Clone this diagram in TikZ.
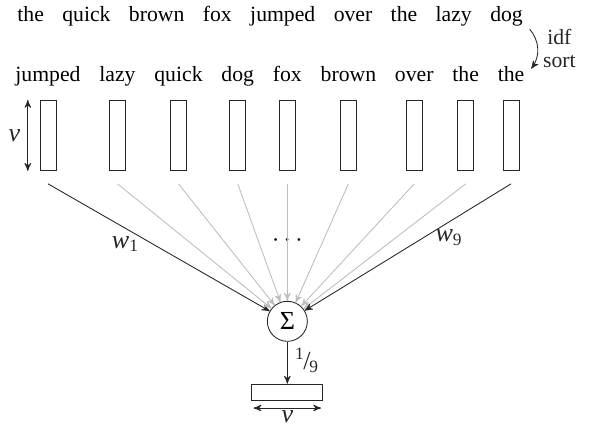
\documentclass[tikz,border=0pt]{standalone}
\usepackage{fontspec}
\setmainfont{Liberation Serif}
\usetikzlibrary{arrows, positioning, calc}

\definecolor{lightline}{gray}{0.74}
\definecolor{darkline}{gray}{0.15}

\begin{document}
\begin{tikzpicture}[>=stealth', thin,
	word/.style={inner sep=0pt},
	vecbox/.style={draw=darkline, rectangle, inner sep=0pt, minimum width=0.26cm, minimum height=1.134cm},
	outbox/.style={draw=darkline, rectangle, inner sep=0pt, minimum width=1.15cm, minimum height=0.26cm},
	sumnode/.style={draw=darkline, circle, inner sep=0pt, minimum size=0.648cm}]

	\useasboundingbox (0,0) rectangle (9.574,-6.885);

	% Define nodes: the sentence
	\node (t1) [word, anchor=base west] at (0.275,-0.356) {the};
	\node (t2) [word, base right=8.1pt of t1] {quick};
	\node (t3) [word, base right=8.1pt of t2] {brown};
	\node (t4) [word, base right=8.1pt of t3] {fox};
	\node (t5) [word, base right=8.1pt of t4] {jumped};
	\node (t6) [word, base right=8.1pt of t5] {over};
	\node (t7) [word, base right=8.1pt of t6] {the};
	\node (t8) [word, base right=8.1pt of t7] {lazy};
	\node (t9) [word, base right=8.1pt of t8] {dog};

	% Define nodes: the sorted words
	\node (s1) [word, anchor=base west] at (0.243,-1.328) {jumped};
	\node (s2) [word, base right=8.3pt of s1] {lazy};
	\node (s3) [word, base right=8.3pt of s2] {quick};
	\node (s4) [word, base right=8.3pt of s3] {dog};
	\node (s5) [word, base right=8.3pt of s4] {fox};
	\node (s6) [word, base right=8.3pt of s5] {brown};
	\node (s7) [word, base right=8.3pt of s6] {over};
	\node (s8) [word, base right=8.3pt of s7] {the};
	\node (s9) [word, base right=8.3pt of s8] {the};

	% Define nodes: word vectors
	\node (b1) [vecbox, below=8.3pt of s1.base] {};
	\node (b2) [vecbox, below=8.3pt of s2.base] {};
	\node (b3) [vecbox, below=8.3pt of s3.base] {};
	\node (b4) [vecbox, below=8.3pt of s4.base] {};
	\node (b5) [vecbox, below=8.3pt of s5.base] {};
	\node (b6) [vecbox, below=8.3pt of s6.base] {};
	\node (b7) [vecbox, below=8.3pt of s7.base] {};
	\node (b8) [vecbox, below=8.3pt of s8.base] {};
	\node (b9) [vecbox, below=8.3pt of s9.base] {};

	\node (sum) [sumnode, below=2.106cm of b5] {\large Σ};
	\node (out) [outbox, below=0.68cm of sum] {};
	\node (dots) at ($(b5.south)!.54!(sum.north)$) {\large$\cdots$};

	% Start points of the weights
	\foreach \i in {1,...,9}
		\coordinate (c\i) at ([yshift=-0.21cm]b\i.south);

	% Draw arrows
	\draw[<->, darkline] ([xshift=-0.19cm]b1.north west) -- node[left] {\large\itshape ν} ([xshift=-0.19cm]b1.south west);
	\draw[->, darkline] ([shift={(3pt,-1pt)}]t9.south east) to[bend left=38] node[right, align=center, xshift=-1pt] {idf\\[-1.5pt]sort} ([shift={(3pt,-1pt)}]s9.north east);

	\draw[->, darkline] (c1) -- node[pos=.35, below] {\large\textit{w}\textsubscript{1}} (sum);
	\foreach \i in {2,...,8}
		\draw[->, lightline] (c\i) -- (sum);
	\draw[->, darkline] (c9) -- node[pos=.3, below] {\large\textit{w}\textsubscript{9}} (sum);

	\draw[->, darkline] (sum) -- node[pos=.45, right] {\large\textsuperscript{1}\kern-.05em/\kern-.05em\textsubscript{9}} (out);
	\draw[<->, darkline] ([shift={(1pt,-0.12cm)}]out.south west) -- node[below, inner sep=1pt] {\large\itshape ν} ([shift={(-1pt,-0.12cm)}]out.south east);

\end{tikzpicture}
\end{document}
